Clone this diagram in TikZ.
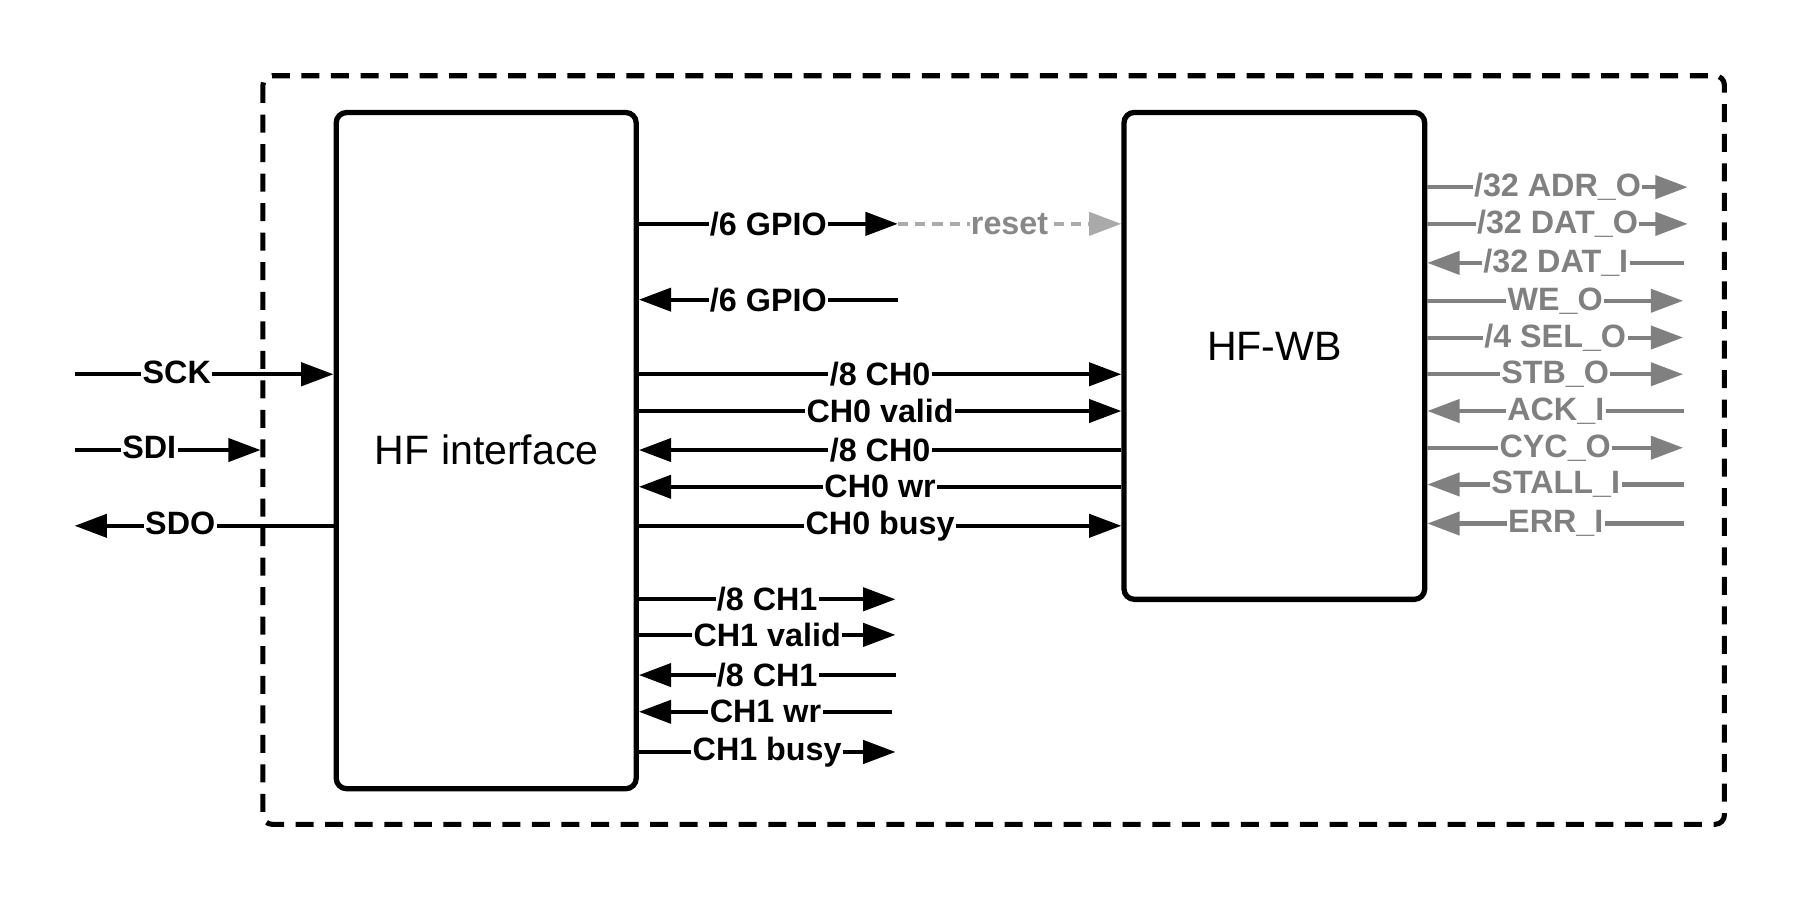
\documentclass[tikz,border=0pt]{standalone}
\usepackage{fontspec}
\setmainfont{Liberation Sans}
\usetikzlibrary{arrows.meta}
\definecolor{sgray}{HTML}{808080}
\definecolor{lgray}{HTML}{AAAAAA}
\definecolor{rgray}{HTML}{888888}
\tikzset{
  blk/.style={draw=black, line width=2.3pt, rounded corners=4.5pt, inner sep=0pt},
  title/.style={font=\fontsize{17.8}{18}\selectfont, inner sep=0pt},
  sig/.style={line width=1.75pt, draw=black},
  gsig/.style={line width=1.75pt, draw=sgray},
  tip/.style={-{Triangle[length=14pt,width=10pt]}},
  rtip/.style={{Triangle[length=14pt,width=10pt]}-},
  lab/.style={font=\bfseries\fontsize{14}{14}\selectfont, fill=white, inner sep=0.6pt, text=black},
  glab/.style={lab, text=sgray},
  outer/.style={draw=black, line width=2.2pt, dash pattern=on 7.8pt off 5pt, rounded corners=4pt},
}
\begin{document}
\begin{tikzpicture}[x=0.4975pt, y=-0.4975pt]
\useasboundingbox (0pt,0pt) rectangle (780pt,-390pt);
% outer dashed frame
\draw[outer] (229,66) rectangle (1502,718);
% blocks
\node[blk, minimum width=130pt, minimum height=293pt] (hf) at (423.5,392.5) {};
\node[title] (hft) at (424,392) {HF interface};
\node[blk, minimum width=130.3pt, minimum height=211pt] (wb) at (1110,310) {};
\node[title] (wbt) at (1110,302) {HF-WB};
% free ends on the left
\coordinate (sckL) at (65,326);
\coordinate (sdiL) at (65,392);
\coordinate (sdiR) at (227,392);
\coordinate (sdoL) at (65,458);
\draw[sig,tip] (sckL) -- (hf.west |- sckL);
\node[lab] (sckt) at (154,324) {SCK};
\draw[sig,tip] (sdiL) -- (sdiR);
\node[lab] (sdit) at (130,390) {SDI};
\draw[sig,tip] (hf.west |- sdoL) -- (sdoL);
\node[lab] (sdot) at (157,456) {SDO};
% GPIO
\coordinate (g1) at (782,195);
\coordinate (g2) at (782,261);
\draw[sig,tip] (hf.east |- g1) -- (g1) node[lab,midway] (g1t) {/6 GPIO};
\draw[line width=1.75pt, draw=lgray, dash pattern=on 4.5pt off 3pt, -{Triangle[length=14pt,width=10pt]}] (g1) -- (wb.west |- g1) node[lab, text=rgray, pos=0.5] (rst) {reset};
\draw[sig,rtip] (hf.east |- g2) -- (g2) node[lab,midway] (g2t) {/6 GPIO};
% CH0
\draw[sig,tip] (hf.east |- 0,326) -- (wb.west |- 0,326) node[lab,midway] (c0a) {/8 CH0};
\draw[sig,tip] (hf.east |- 0,358) -- (wb.west |- 0,358) node[lab,midway] (c0b) {CH0 valid};
\draw[sig,rtip] (hf.east |- 0,392) -- (wb.west |- 0,392) node[lab,midway] (c0c) {/8 CH0};
\draw[sig,rtip] (hf.east |- 0,424) -- (wb.west |- 0,424) node[lab,midway] (c0d) {CH0 wr};
\draw[sig,tip] (hf.east |- 0,458) -- (wb.west |- 0,458) node[lab,midway] (c0e) {CH0 busy};
% CH1
\coordinate (h1) at (780,522);
\coordinate (h2) at (780,553);
\coordinate (h3) at (780,588);
\coordinate (h4) at (777,620);
\coordinate (h5) at (780,655);
\draw[sig,tip] (hf.east |- h1) -- (h1) node[lab,midway] (c1a) {/8 CH1};
\draw[sig,tip] (hf.east |- h2) -- (h2) node[lab,midway] (c1b) {CH1 valid};
\draw[sig,rtip] (hf.east |- h3) -- (h3) node[lab,midway] (c1c) {/8 CH1};
\draw[sig,rtip] (hf.east |- h4) -- (h4) node[lab,midway] (c1d) {CH1 wr};
\draw[sig,tip] (hf.east |- h5) -- (h5) node[lab,midway] (c1e) {CH1 busy};
% Wishbone side
\coordinate (w1) at (1470,163);
\coordinate (w2) at (1470,195);
\coordinate (w3) at (1467,229);
\coordinate (w4) at (1466,262);
\coordinate (w5) at (1466,294);
\coordinate (w6) at (1466,326);
\coordinate (w7) at (1467,358);
\coordinate (w8) at (1466,390);
\coordinate (w9) at (1467,422);
\coordinate (w10) at (1467,456);
\draw[gsig,tip] (wb.east |- w1) -- (w1) node[glab,midway] (adr) {/32 ADR\_O};
\draw[gsig,tip] (wb.east |- w2) -- (w2) node[glab,midway] (dato) {/32 DAT\_O};
\draw[gsig,rtip] (wb.east |- w3) -- (w3) node[glab,midway] (dati) {/32 DAT\_I};
\draw[gsig,tip] (wb.east |- w4) -- (w4) node[glab,midway] (we) {WE\_O};
\draw[gsig,tip] (wb.east |- w5) -- (w5) node[glab,midway] (sel) {/4 SEL\_O};
\draw[gsig,tip] (wb.east |- w6) -- (w6) node[glab,midway] (stb) {STB\_O};
\draw[gsig,rtip] (wb.east |- w7) -- (w7) node[glab,midway] (ack) {ACK\_I};
\draw[gsig,tip] (wb.east |- w8) -- (w8) node[glab,midway] (cyc) {CYC\_O};
\draw[gsig,rtip] (wb.east |- w9) -- (w9) node[glab,midway] (stall) {STALL\_I};
\draw[gsig,rtip] (wb.east |- w10) -- (w10) node[glab,midway] (err) {ERR\_I};
\end{tikzpicture}
\end{document}
